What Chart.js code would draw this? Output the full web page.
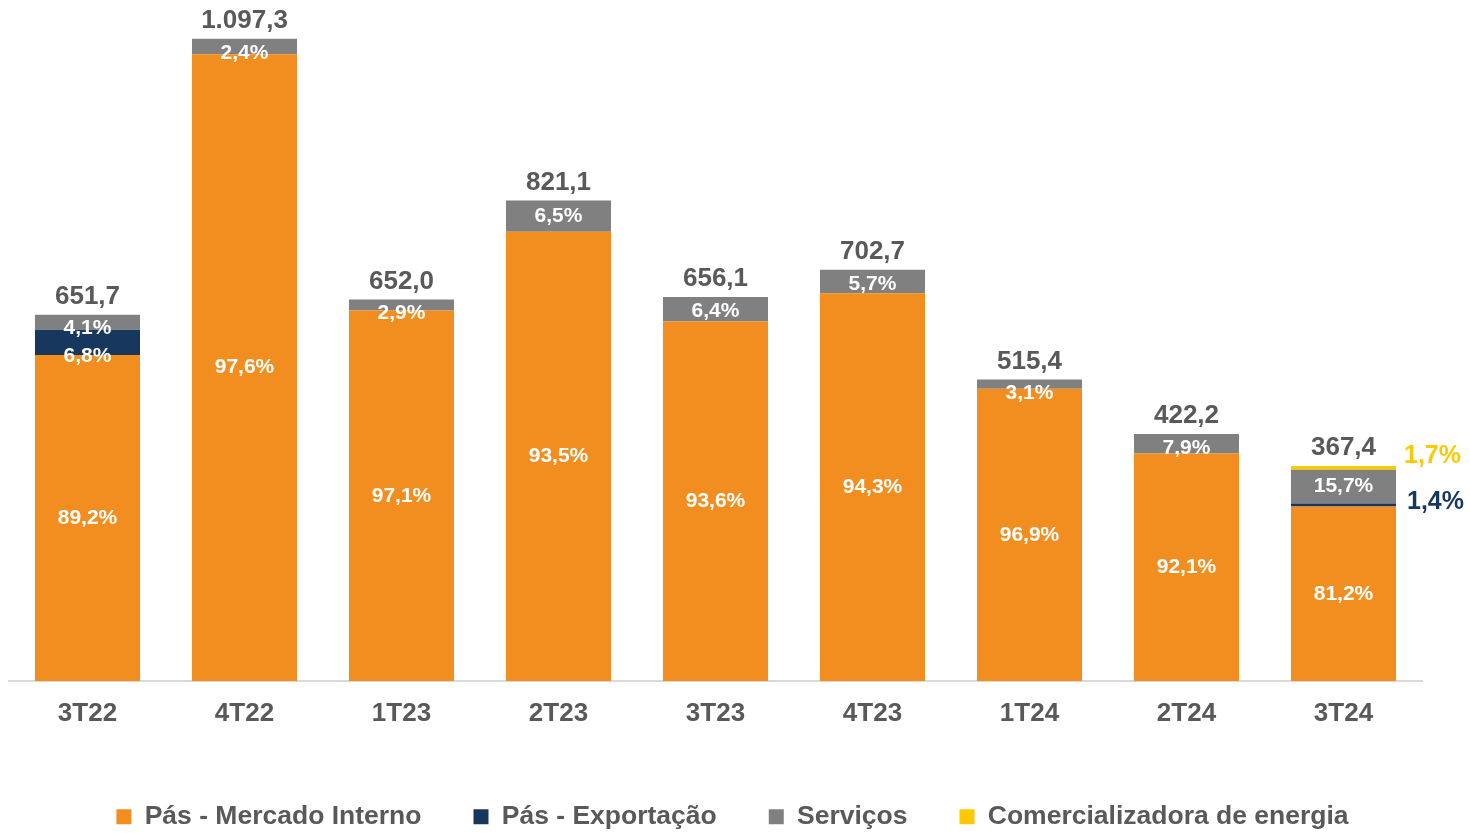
<!DOCTYPE html>
<html>
<head>
<meta charset="utf-8">
<script src="https://cdn.jsdelivr.net/npm/chart.js@4.4.1/dist/chart.umd.min.js"></script>
<style>
  html, body { margin: 0; padding: 0; background: #fff; }
  #wrap { width: 1470px; height: 833px; }
</style>
</head>
<body>
<div id="wrap"><canvas id="myChart"></canvas></div>
<script>
// dados (R$ milhões)
const trimestres = ['3T22', '4T22', '1T23', '2T23', '3T23', '4T23', '1T24', '2T24', '3T24'];
const mercadoInterno = [557, 1071.0, 633.1, 767.7, 614.1, 662.6, 499.4, 388.8, 298.3];
const exportacao = [43, null, null, null, null, null, null, null, 5.1];
const servicos = [26, 26.3, 18.9, 53.4, 42.0, 40.1, 16.0, 33.4, 57.7];
const energia = [null, null, null, null, null, null, null, null, 6.2];

const totais = ['651,7', '1.097,3', '652,0', '821,1', '656,1', '702,7', '515,4', '422,2', '367,4'];
const pctMercado = ['89,2%', '97,6%', '97,1%', '93,5%', '93,6%', '94,3%', '96,9%', '92,1%', '81,2%'];
const pctExportacao = ['6,8%', null, null, null, null, null, null, null, '1,4%'];
const pctServicos = ['4,1%', '2,4%', '2,9%', '6,5%', '6,4%', '5,7%', '3,1%', '7,9%', '15,7%'];
const pctEnergia = [null, null, null, null, null, null, null, null, '1,7%'];

const cores = ['#F28E1F', '#17375E', '#808080', '#FFC800'];
const fonte = "'Liberation Sans', Arial, sans-serif";
const cinzaTexto = '#595959';

// rotulos de dados (percentuais e totais)
const rotulos = {
  id: 'rotulos',
  afterLayout(chart) {
    // legenda um pouco mais a direita, como no original
    chart.legend.left += 17;
    chart.legend.right += 17;
  },
  afterDatasetsDraw(chart) {
    const ctx = chart.ctx;
    const listas = [pctMercado, pctExportacao, pctServicos, pctEnergia];
    const ajusteFora = [0, 3, 0, 12];
    ctx.save();
    ctx.textBaseline = 'middle';
    trimestres.forEach((t, j) => {
      let ultimoY = -Infinity;
      for (let i = listas.length - 1; i >= 0; i--) {
        const txt = listas[i][j];
        if (!txt) continue;
        const bar = chart.getDatasetMeta(i).data[j];
        const top = Math.min(bar.y, bar.base);
        const bottom = Math.max(bar.y, bar.base);
        const mid = (top + bottom) / 2;
        if (bottom - top < 8) {
          ctx.fillStyle = cores[i];
          ctx.font = 'bold 25px ' + fonte;
          ctx.textAlign = 'left';
          ctx.fillText(txt, bar.x + bar.width / 2 + 8 + (i === 1 ? 3 : 0), mid - ajusteFora[i]);
        } else {
          const y = Math.max(mid, top + 14, ultimoY + 28);
          ctx.fillStyle = '#fff';
          ctx.font = 'bold 21px ' + fonte;
          ctx.textAlign = 'center';
          ctx.fillText(txt, bar.x, y);
          ultimoY = y;
        }
      }
    });

    const y = chart.scales.y;
    const meta0 = chart.getDatasetMeta(0);
    ctx.fillStyle = cinzaTexto;
    ctx.font = 'bold 26px ' + fonte;
    ctx.textAlign = 'center';
    trimestres.forEach((t, j) => {
      const soma = (mercadoInterno[j] || 0) + (exportacao[j] || 0) + (servicos[j] || 0) + (energia[j] || 0);
      ctx.fillText(totais[j], meta0.data[j].x, y.getPixelForValue(soma) - 18);
    });
    ctx.restore();
  }
};

const ctx = document.getElementById('myChart');

new Chart(ctx, {
  type: 'bar',
  data: {
    labels: trimestres,
    datasets: [
      { label: 'Pás - Mercado Interno', data: mercadoInterno, backgroundColor: cores[0], borderWidth: 0 },
      { label: 'Pás - Exportação', data: exportacao, backgroundColor: cores[1], borderWidth: 0 },
      { label: 'Serviços', data: servicos, backgroundColor: cores[2], borderWidth: 0 },
      { label: 'Comercializadora de energia', data: energia, backgroundColor: cores[3], borderWidth: 0 }
    ]
  },
  options: {
    responsive: true,
    maintainAspectRatio: false,
    animation: false,
    layout: {
      padding: { top: 8, left: 9, right: 48, bottom: -7 }
    },
    datasets: {
      bar: { barPercentage: 1, categoryPercentage: 0.669 }
    },
    scales: {
      x: {
        stacked: true,
        grid: { display: false },
        border: { display: true, color: '#D9D9D9', width: 2 },
        ticks: {
          color: cinzaTexto,
          padding: 9,
          font: { family: fonte, size: 26, weight: 'bold' }
        },
        afterFit(scale) {
          scale.height = 70.5;
        }
      },
      y: {
        stacked: true,
        display: false,
        min: 0,
        max: 1150
      }
    },
    plugins: {
      legend: {
        position: 'bottom',
        labels: {
          boxWidth: 15,
          boxHeight: 15,
          padding: 52,
          color: cinzaTexto,
          font: { family: fonte, size: 26.5, weight: 'bold' }
        }
      },
      tooltip: { enabled: false }
    }
  },
  plugins: [rotulos]
});
</script>
</body>
</html>
